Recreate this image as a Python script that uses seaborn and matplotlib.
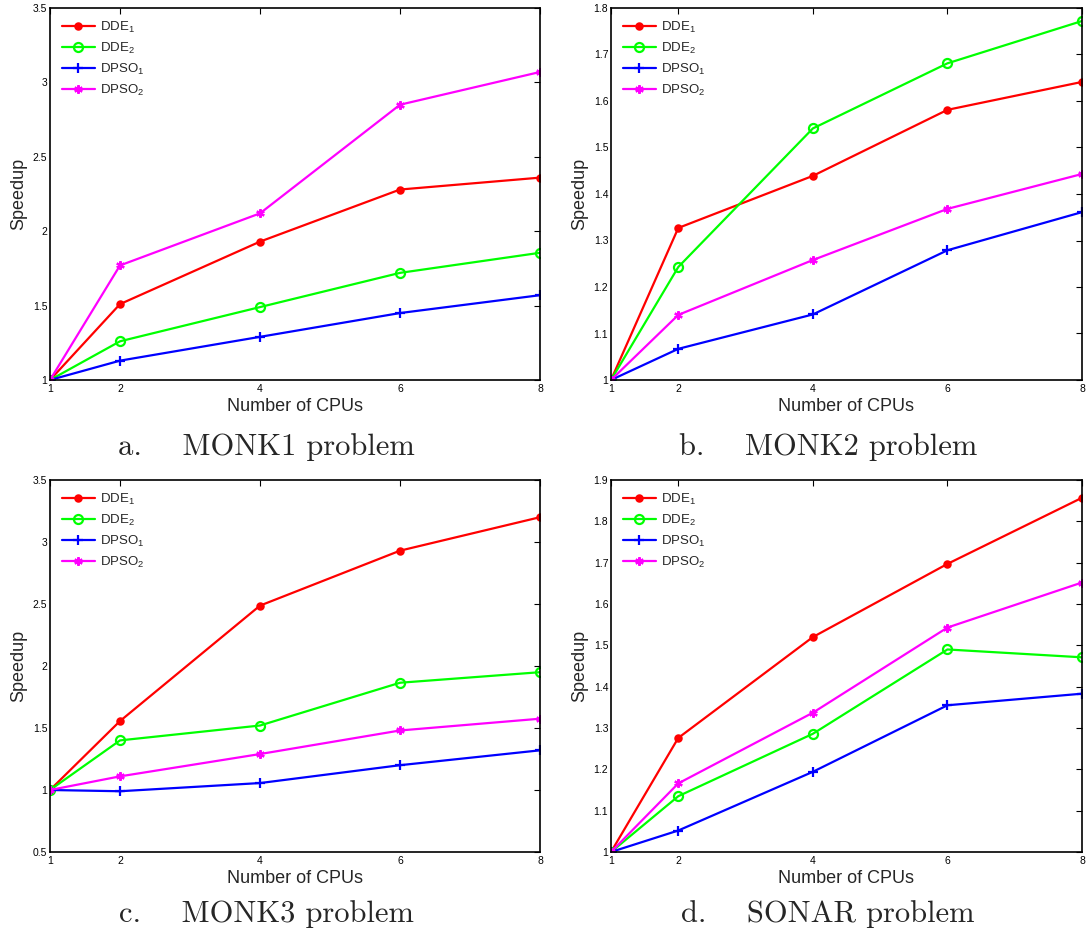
import numpy as np
import pandas as pd
import matplotlib
matplotlib.use("Agg")
import matplotlib.pyplot as plt
from matplotlib.ticker import FuncFormatter
import seaborn as sns

cpus = [1, 2, 4, 6, 8]
series_names = ["DDE$_\\mathregular{1}$", "DDE$_\\mathregular{2}$",
                "DPSO$_\\mathregular{1}$", "DPSO$_\\mathregular{2}$"]

# Panel a: MONK1
monk1_dde1 = [1.0, 1.51, 1.93, 2.28, 2.36]
monk1_dde2 = [1.0, 1.26, 1.49, 1.72, 1.855]
monk1_dpso1 = [1.0, 1.13, 1.29, 1.45, 1.57]
monk1_dpso2 = [1.0, 1.77, 2.12, 2.85, 3.07]

# Panel b: MONK2
monk2_dde1 = [1.0, 1.327, 1.439, 1.581, 1.641]
monk2_dde2 = [1.0, 1.243, 1.541, 1.681, 1.772]
monk2_dpso1 = [1.0, 1.067, 1.141, 1.279, 1.361]
monk2_dpso2 = [1.0, 1.14, 1.258, 1.368, 1.443]

# Panel c: MONK3
monk3_dde1 = [1.0, 1.556, 2.487, 2.93, 3.20]
monk3_dde2 = [1.0, 1.40, 1.52, 1.865, 1.95]
monk3_dpso1 = [1.0, 0.99, 1.056, 1.20, 1.32]
monk3_dpso2 = [1.0, 1.11, 1.29, 1.48, 1.575]

# Panel d: SONAR
sonar_dde1 = [1.0, 1.276, 1.52, 1.697, 1.857]
sonar_dde2 = [1.0, 1.135, 1.286, 1.49, 1.471]
sonar_dpso1 = [1.0, 1.052, 1.194, 1.355, 1.383]
sonar_dpso2 = [1.0, 1.166, 1.337, 1.543, 1.652]

captions = ["a.    MONK1 problem", "b.    MONK2 problem",
            "c.    MONK3 problem", "d.    SONAR problem"]

ylims = [(1, 3.5), (1, 1.8), (0.5, 3.5), (1, 1.9)]
ysteps = [0.5, 0.1, 0.5, 0.1]

panels = [
    [monk1_dde1, monk1_dde2, monk1_dpso1, monk1_dpso2],
    [monk2_dde1, monk2_dde2, monk2_dpso1, monk2_dpso2],
    [monk3_dde1, monk3_dde2, monk3_dpso1, monk3_dpso2],
    [sonar_dde1, sonar_dde2, sonar_dpso1, sonar_dpso2],
]

colors = ["#ff0000", "#00ff00", "#0000ff", "#ff00ff"]
markers = ["o", "o", "+", (6, 2, 0)]
msizes = [4.5, 6.5, 6.5, 6]
mfcs = ["#ff0000", "none", "#0000ff", "#ff00ff"]

sns.set_style("white")
plt.rcParams["font.family"] = ["Liberation Sans", "DejaVu Sans"]
plt.rcParams["mathtext.fontset"] = "custom"
plt.rcParams["mathtext.rm"] = "Liberation Sans"

W, H = 1091, 943
fig = plt.figure(figsize=(W / 100, H / 100), dpi=100)

# axes boxes in pixel coords (left, top, right, bottom)
boxes = [(50, 8, 540, 380), (611, 8, 1082, 380),
         (50, 480, 540, 852), (611, 480, 1082, 852)]
cap_pos = [(266, 447), (828, 447), (266, 914), (828, 914)]

for i, (box, vals) in enumerate(zip(boxes, panels)):
    l, t, r, b = box
    ax = fig.add_axes([l / W, 1 - b / H, (r - l) / W, (b - t) / H])
    for j, v in enumerate(vals):
        df = pd.DataFrame({"cpu": cpus, "speedup": v})
        sns.lineplot(data=df, x="cpu", y="speedup", ax=ax, color=colors[j],
                     marker=markers[j], markersize=msizes[j],
                     markerfacecolor=mfcs[j], markeredgecolor=colors[j],
                     markeredgewidth=1.6, linewidth=1.6,
                     label=series_names[j])
    ax.set_xlim(1, 8)
    ax.set_ylim(*ylims[i])
    ax.set_xticks(cpus)
    lo, hi = ylims[i]
    yt = np.round(np.arange(lo, hi + 1e-9, ysteps[i]), 2)
    ax.set_yticks(yt)
    ax.yaxis.set_major_formatter(FuncFormatter(lambda x, p: "%g" % round(x, 2)))
    ax.tick_params(direction="in", length=4, width=0.8, labelsize=7.5,
                   top=True, right=True, colors="black")
    ax.tick_params(axis="x", pad=3)
    ax.tick_params(axis="y", pad=2)
    for s in ax.spines.values():
        s.set_visible(True)
        s.set_linewidth(1.2)
        s.set_color("black")
    ax.set_xlabel("Number of CPUs", fontsize=13, labelpad=3)
    ax.set_ylabel("Speedup", fontsize=13, labelpad=4)
    leg = ax.legend(loc="upper left", frameon=False, fontsize=9.5,
                    handlelength=2.5, labelspacing=0.45, borderaxespad=0.5,
                    handletextpad=0.4)
    cx, cy = cap_pos[i]
    fig.text(cx / W, 1 - cy / H, captions[i], ha="center", va="center",
             fontsize=22, family="cmr10")

fig.savefig("out.png", dpi=100)
